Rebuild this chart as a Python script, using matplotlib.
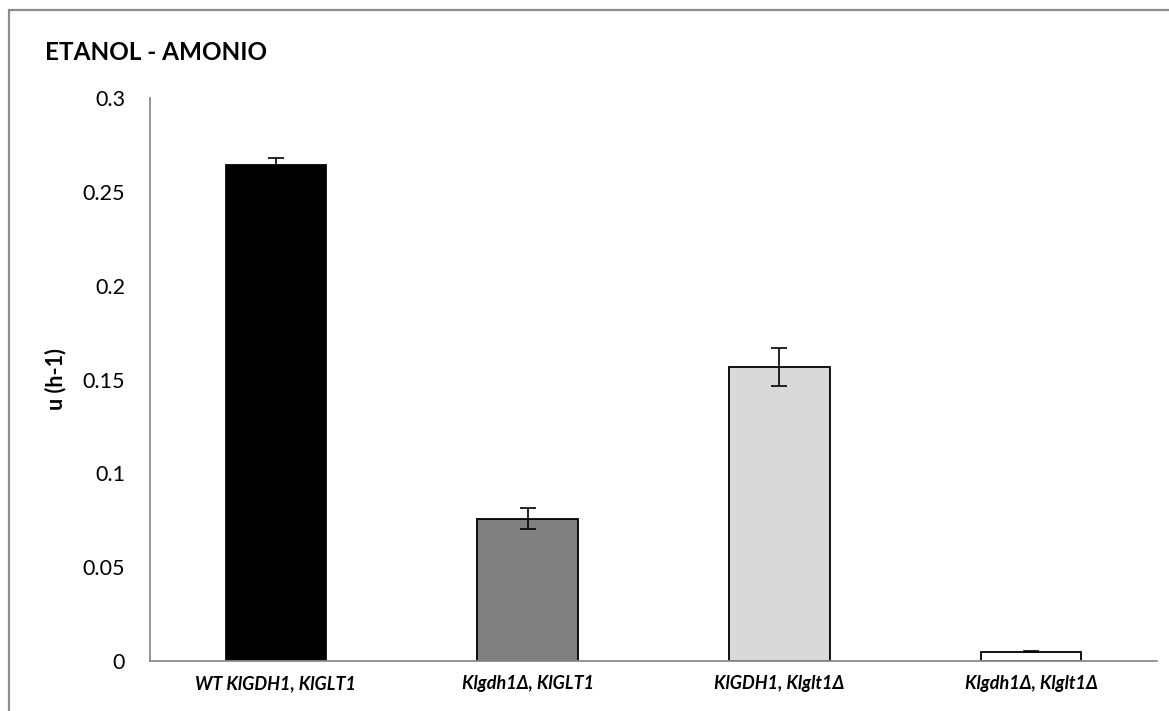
""" Growth rate bar chart, ethanol - ammonium """

import matplotlib
matplotlib.use("Agg")
from matplotlib import pyplot as plt
from matplotlib.patches import Rectangle
from matplotlib.ticker import FuncFormatter

strains = ["WT KlGDH1, KlGLT1", "Klgdh1Δ, KlGLT1",
           "KlGDH1, Klglt1Δ", "Klgdh1Δ, Klglt1Δ"]
growth_rate = [0.2643, 0.0757, 0.1567, 0.0050]
growth_err = [0.0035, 0.0056, 0.0099, 0.0002]
bar_colors = ["#000000", "#808080", "#d9d9d9", "#ffffff"]
y_ticks = [0, 0.05, 0.1, 0.15, 0.2, 0.25, 0.3]

plt.rcParams["font.family"] = ["Lato", "DejaVu Sans"]

fig = plt.figure(figsize=(11.69, 7.11), dpi=100)
ax = fig.add_axes([150 / 1169, 50 / 711, 1007 / 1169, 563 / 711])

# chart frame (cut off on the right and bottom, like the original)
fig.add_artist(Rectangle((8.5 / 1169, -0.1), 1.2, 1.1 - 10 / 711,
                         transform=fig.transFigure, fill=False,
                         edgecolor="#8c8c8c", linewidth=1.6))

positions = range(len(strains))
ax.bar(positions, growth_rate, width=0.4, color=bar_colors,
       edgecolor="black", linewidth=1.3, zorder=2)
ax.errorbar(positions, growth_rate, yerr=growth_err, fmt="none",
            ecolor="black", elinewidth=1.2, capsize=6, capthick=1.2,
            zorder=3)

ax.set_xlim(-0.5, len(strains) - 0.5)
ax.set_ylim(0, 0.3)
ax.set_yticks(y_ticks)
ax.yaxis.set_major_formatter(FuncFormatter(lambda v, p: "%g" % v))
ax.set_xticks(list(positions))
ax.set_xticklabels(strains, fontsize=13, fontweight="bold",
                   fontstyle="italic")
ax.tick_params(axis="both", length=0)
ax.tick_params(axis="y", labelsize=15.5, pad=18)
ax.tick_params(axis="x", pad=10)

for side in ("top", "right"):
    ax.spines[side].set_visible(False)
for side in ("left", "bottom"):
    ax.spines[side].set_color("#8c8c8c")
    ax.spines[side].set_linewidth(1.3)

ax.set_ylabel("u (h-1)", fontsize=15.5, fontweight="bold")
ax.yaxis.set_label_coords(-0.083, 0.5)

fig.text(45 / 1169, 1 - 52 / 711, "ETANOL - AMONIO", fontsize=17.5,
         fontweight="bold", va="center", ha="left")

fig.savefig("out.png", dpi=100)
